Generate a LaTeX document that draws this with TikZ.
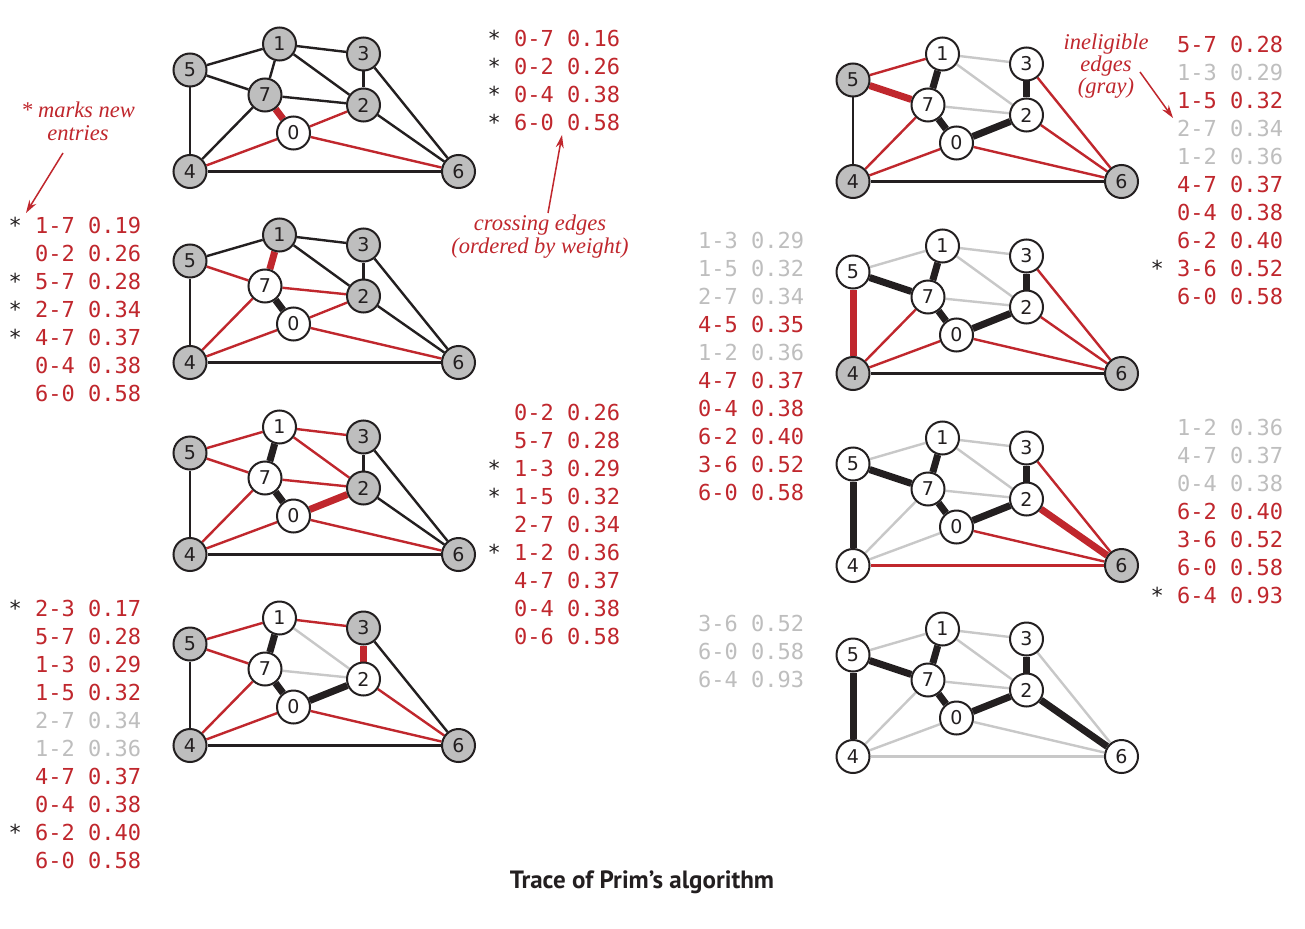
\documentclass[tikz,border=0pt]{standalone}
\usepackage{fontspec}
\newfontfamily\monofont{DejaVu Sans Mono}
\newfontfamily\nodefont{DejaVu Sans}
\newfontfamily\capfont{PT Sans}
\newfontfamily\annfont{Liberation Serif}
\usetikzlibrary{backgrounds,arrows.meta}

\definecolor{pred}{RGB}{192,39,45}
\definecolor{pblack}{RGB}{35,31,32}
\definecolor{pgrayedge}{RGB}{200,200,200}
\definecolor{pgraytext}{RGB}{190,190,190}
\definecolor{pgrayfill}{RGB}{190,190,190}

\tikzset{
 vx/.style={circle, draw=pblack, line width=2pt, minimum size=33pt, inner sep=0pt,
   font=\nodefont\fontsize{19}{19}\selectfont, text=pblack},
 eblack/.style={draw=pblack, line width=2.4pt},
 ered/.style={draw=pred, line width=2.4pt},
 egray/.style={draw=pgrayedge, line width=2.4pt},
 tblack/.style={draw=pblack, line width=7pt},
 tred/.style={draw=pred, line width=7pt},
 row/.style={anchor=base west, inner sep=0pt, font=\monofont\fontsize{22}{22}\selectfont},
 ann/.style={text=pred, font=\annfont\itshape\fontsize{22.5}{23}\selectfont, align=center, inner sep=0pt},
 arr/.style={draw=pred, line width=1.5pt, -{Stealth[length=13pt,width=8pt]}}
}

\newcommand\vtx[5]{\ifnum#4>#2\relax\def\vfill{pgrayfill}\else\def\vfill{white}\fi
  \node[vx,fill=\vfill] (#1#3) at #5 {#3};}
\newcommand\pgraph[4]{%
 \begin{scope}[shift={(#3,#4)}]
 \vtx{#1}{#2}{0}{1}{(293.5,133)}
 \vtx{#1}{#2}{7}{2}{(265,95)}
 \vtx{#1}{#2}{1}{3}{(279.5,44)}
 \vtx{#1}{#2}{2}{4}{(363.5,105)}
 \vtx{#1}{#2}{3}{5}{(363.5,54)}
 \vtx{#1}{#2}{5}{6}{(190,70)}
 \vtx{#1}{#2}{4}{7}{(190,171.5)}
 \vtx{#1}{#2}{6}{8}{(458.5,171.5)}
 \end{scope}}
\newcommand\edg[3]{\foreach \a/\b in {#3}{\draw[#1] (#2\a) -- (#2\b);}}
\newcommand\trow[6]{\node[row, text=#4] (#1) at (#2,#3) {\ifnum#5=1\llap{\textcolor{pblack}{*}\ }\fi#6};}
\newcommand\ptable[4]{\foreach[count=\i from 0] \s/\c/\t in {#4}{\trow{#1\i}{#2}{#3+28*\i}{\c}{\s}{\t}}}

\begin{document}
\begin{tikzpicture}[x=1pt,y=-1pt]
\useasboundingbox (0,0) rectangle (1305,928);

\pgraph{a}{1}{0}{0}
\pgraph{b}{2}{0}{191}
\pgraph{c}{3}{0}{383}
\pgraph{d}{4}{0}{574}
\pgraph{e}{5}{663}{10}
\pgraph{f}{6}{663}{202}
\pgraph{g}{7}{663}{394}
\pgraph{h}{8}{663}{585}

\begin{pgfonlayer}{background}
\fill[white] (0,0) rectangle (1305,928);
% L1
\edg{eblack}{a}{1/5,5/7,1/7,1/3,1/2,2/3,3/6,2/7,2/6,4/7,4/5,4/6}
\edg{ered}{a}{0/2,0/4,0/6}
\edg{tred}{a}{0/7}
% L2
\edg{eblack}{b}{1/5,1/3,1/2,2/3,3/6,2/6,4/5,4/6}
\edg{ered}{b}{5/7,2/7,4/7,0/2,0/4,0/6}
\edg{tblack}{b}{0/7}
\edg{tred}{b}{1/7}
% L3
\edg{eblack}{c}{2/3,3/6,2/6,4/5,4/6}
\edg{ered}{c}{1/5,5/7,1/3,1/2,2/7,4/7,0/4,0/6}
\edg{tblack}{c}{0/7,1/7}
\edg{tred}{c}{0/2}
% L4
\edg{eblack}{d}{3/6,4/5,4/6}
\edg{ered}{d}{1/5,5/7,1/3,2/6,4/7,0/4,0/6}
\edg{egray}{d}{1/2,2/7}
\edg{tblack}{d}{0/7,1/7,0/2}
\edg{tred}{d}{2/3}
% R1
\edg{eblack}{e}{4/5,4/6}
\edg{ered}{e}{1/5,3/6,2/6,4/7,0/4,0/6}
\edg{egray}{e}{1/3,1/2,2/7}
\edg{tblack}{e}{1/7,2/3,0/7,0/2}
\edg{tred}{e}{5/7}
% R2
\edg{eblack}{f}{4/6}
\edg{ered}{f}{3/6,2/6,4/7,0/4,0/6}
\edg{egray}{f}{1/5,1/3,1/2,2/7}
\edg{tblack}{f}{5/7,1/7,2/3,0/7,0/2}
\edg{tred}{f}{4/5}
% R3
\edg{ered}{g}{3/6,4/6,0/6}
\edg{egray}{g}{1/5,1/3,1/2,2/7,4/7,0/4}
\edg{tblack}{g}{5/7,1/7,2/3,4/5,0/7,0/2}
\edg{tred}{g}{2/6}
% R4
\edg{egray}{h}{1/5,1/3,1/2,3/6,2/7,4/7,4/6,0/4,0/6}
\edg{tblack}{h}{5/7,1/7,2/3,2/6,4/5,0/7,0/2}
\end{pgfonlayer}

% tables
\ptable{ta}{514}{46.5}{1/pred/0-7 0.16,1/pred/0-2 0.26,1/pred/0-4 0.38,1/pred/6-0 0.58}
\ptable{tb}{35}{233.3}{1/pred/1-7 0.19,0/pred/0-2 0.26,1/pred/5-7 0.28,1/pred/2-7 0.34,1/pred/4-7 0.37,0/pred/0-4 0.38,0/pred/6-0 0.58}
\ptable{tc}{514}{420}{0/pred/0-2 0.26,0/pred/5-7 0.28,1/pred/1-3 0.29,1/pred/1-5 0.32,0/pred/2-7 0.34,1/pred/1-2 0.36,0/pred/4-7 0.37,0/pred/0-4 0.38,0/pred/0-6 0.58}
\ptable{td}{35}{616.5}{1/pred/2-3 0.17,0/pred/5-7 0.28,0/pred/1-3 0.29,0/pred/1-5 0.32,0/pgraytext/2-7 0.34,0/pgraytext/1-2 0.36,0/pred/4-7 0.37,0/pred/0-4 0.38,1/pred/6-2 0.40,0/pred/6-0 0.58}
\ptable{te}{1177}{52.3}{0/pred/5-7 0.28,0/pgraytext/1-3 0.29,0/pred/1-5 0.32,0/pgraytext/2-7 0.34,0/pgraytext/1-2 0.36,0/pred/4-7 0.37,0/pred/0-4 0.38,0/pred/6-2 0.40,1/pred/3-6 0.52,0/pred/6-0 0.58}
\ptable{tf}{698}{248}{0/pgraytext/1-3 0.29,0/pgraytext/1-5 0.32,0/pgraytext/2-7 0.34,0/pred/4-5 0.35,0/pgraytext/1-2 0.36,0/pred/4-7 0.37,0/pred/0-4 0.38,0/pred/6-2 0.40,0/pred/3-6 0.52,0/pred/6-0 0.58}
\ptable{tg}{1177}{435}{0/pgraytext/1-2 0.36,0/pgraytext/4-7 0.37,0/pgraytext/0-4 0.38,0/pred/6-2 0.40,0/pred/3-6 0.52,0/pred/6-0 0.58,1/pred/6-4 0.93}
\ptable{th}{698}{631}{0/pgraytext/3-6 0.52,0/pgraytext/6-0 0.58,0/pgraytext/6-4 0.93}

% annotations
\node[ann] (annA) at (78,121) {* marks new\\entries};
\coordinate (aA1) at (63,153);
\coordinate (aA2) at (26,213);
\draw[arr] (aA1) -- (aA2);

\node[ann] (annB) at (540,237) {crossing edges\\(ordered by weight)};
\coordinate (aB1) at (548,213);
\coordinate (aB2) at (562,135);
\draw[arr] (aB1) -- (aB2);

\node[ann, font=\annfont\itshape\fontsize{22.5}{22}\selectfont] (annC) at (1106,66) {ineligible\\edges\\(gray)};
\coordinate (aC1) at (1140,72);
\coordinate (aC2) at (1173,118);
\draw[arr] (aC1) -- (aC2);

\node[text=pblack, font=\capfont\bfseries\fontsize{25}{28}\selectfont] (cap) at (642,882) {Trace of Prim’s algorithm};
\end{tikzpicture}
\end{document}
